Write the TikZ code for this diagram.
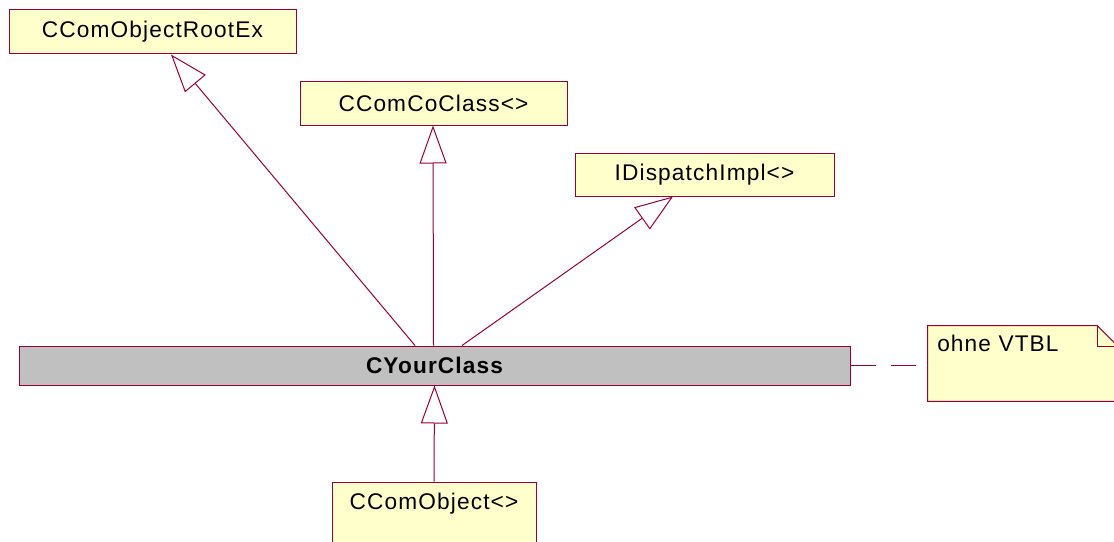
\documentclass[tikz,border=0pt]{standalone}
\usepackage{fontspec}
\setmainfont[LetterSpace=5]{Liberation Sans}
\usetikzlibrary{arrows.meta}
\definecolor{edge}{RGB}{153,0,51}
\definecolor{classfill}{RGB}{255,255,204}
\definecolor{activefill}{RGB}{192,192,192}
\newlength{\pxu}\setlength{\pxu}{0.75pt}
\begin{document}
\begin{tikzpicture}[x=0.75pt,y=-0.75pt,
  labelfont/.style={font=\fontsize{17}{20}\selectfont},
  classbox/.style={draw=edge, fill=classfill, line width=0.75pt, inner sep=0pt, labelfont},
  inherit/.style={draw=edge, line width=0.75pt,
    -{Triangle[fill=white, length=28.5pt, width=20.25pt]}},
  notelink/.style={draw=edge, line width=0.75pt, dash pattern=on 18.75pt off 11.25pt}]
\useasboundingbox (0,0) rectangle (1114,542);
\fill[white] (0,0) rectangle (1114,542);

% classes
\node[classbox, minimum width=287\pxu, minimum height=44\pxu] (A) at (152.5,32) {CComObjectRootEx};
\node[classbox, minimum width=267\pxu, minimum height=43\pxu] (B) at (433.5,103.5) {CComCoClass<>};
\node[classbox, minimum width=259\pxu, minimum height=43\pxu] (C) at (704.5,174.5) {IDispatchImpl<>};
\node[classbox, fill=activefill, minimum width=831\pxu, minimum height=39\pxu,
      font=\fontsize{17}{20}\selectfont\bfseries] (D) at (434.5,365.5) {CYourClass};
\node[classbox, minimum width=204\pxu, minimum height=80\pxu] (E) at (434,522) {};
\node[labelfont, anchor=base, inner sep=0pt] (Etext) at (434,509) {CComObject<>};

% note
\node[minimum width=190\pxu, minimum height=75\pxu, inner sep=0pt] (F) at (1023,363.5) {};
\filldraw[draw=edge, fill=classfill, line width=0.75pt]
  (F.north west) -- ([xshift=-21\pxu]F.north east) -- ([yshift=-21\pxu]F.north east)
  -- (F.south east) -- (F.south west) -- cycle;
\draw[edge, line width=0.75pt] ([xshift=-21\pxu]F.north east) |- ([yshift=-21\pxu]F.north east);
\node[labelfont, anchor=base west, inner sep=0pt] (Ftext) at (937,351) {ohne VTBL};

% generalisations
\draw[inherit] ([xshift=-19.5\pxu]D.north) -- ([xshift=18.5\pxu]A.south);
\draw[inherit] ([xshift=-1\pxu]D.north) -- ([xshift=-0.5\pxu]B.south);
\draw[inherit] ([xshift=27.5\pxu]D.north) -- ([xshift=-31.5\pxu]C.south);
\draw[inherit] (E.north) -- (D.south);

% note link
\draw[notelink] (D.east) -- (D.east -| F.west);
\end{tikzpicture}
\end{document}
